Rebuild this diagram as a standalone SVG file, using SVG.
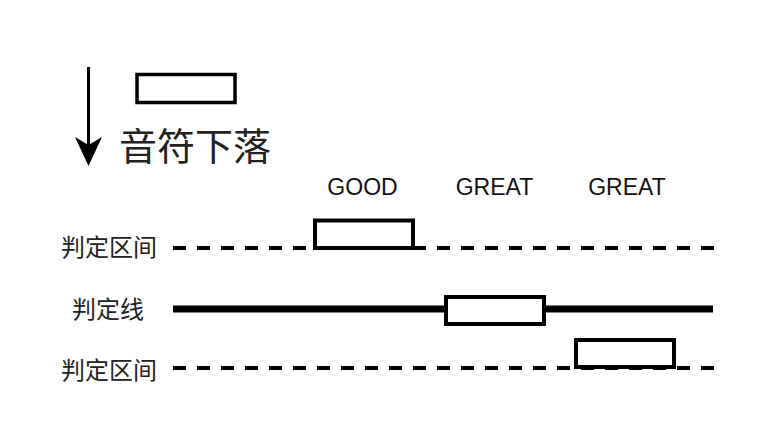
<svg xmlns="http://www.w3.org/2000/svg" width="766" height="438" viewBox="0 0 766 438">
<style>
.cn{font-family:"Noto Sans CJK SC","Noto Sans",sans-serif;fill:#222;}
.en{font-family:"Liberation Sans",Arial,sans-serif;font-size:23px;fill:#111;text-anchor:middle;}
.note{fill:#fff;stroke:#000;stroke-width:4;}
.dash{stroke:#000;stroke-width:4;stroke-dasharray:13 11;fill:none;}
</style>
<rect width="766" height="438" fill="#fff"/>
<g id="legend">
<line x1="88.5" y1="67" x2="88.5" y2="148" stroke="#000" stroke-width="3"/>
<path d="M75,137 L88.5,166 L102,137 L88.5,145 Z" fill="#000"/>
<rect x="137" y="74.5" width="98" height="28" fill="#fff" stroke="#000" stroke-width="3.5"/>
<text class="cn" x="119" y="160" font-size="38">音符下落</text>
</g>
<g id="connectors">
<line class="dash" x1="173" y1="248" x2="714" y2="248"/>
<line x1="173" y1="309" x2="713" y2="309" stroke="#000" stroke-width="7"/>
<line class="dash" x1="173" y1="368" x2="714" y2="368"/>
</g>
<g id="label-top"><text class="cn" x="61" y="256" font-size="24">判定区间</text></g>
<g id="label-mid"><text class="cn" x="72" y="318" font-size="24">判定线</text></g>
<g id="label-bot"><text class="cn" x="61" y="379" font-size="24">判定区间</text></g>
<g id="note-good">
<rect class="note" x="315" y="220.5" width="98" height="27.5"/>
<text class="en" x="362.5" y="195">GOOD</text>
</g>
<g id="note-great1">
<rect class="note" x="446" y="297" width="98" height="27"/>
<text class="en" x="494.5" y="195">GREAT</text>
</g>
<g id="note-great2">
<rect class="note" x="576" y="340" width="98" height="27"/>
<text class="en" x="627" y="195">GREAT</text>
</g>
</svg>
